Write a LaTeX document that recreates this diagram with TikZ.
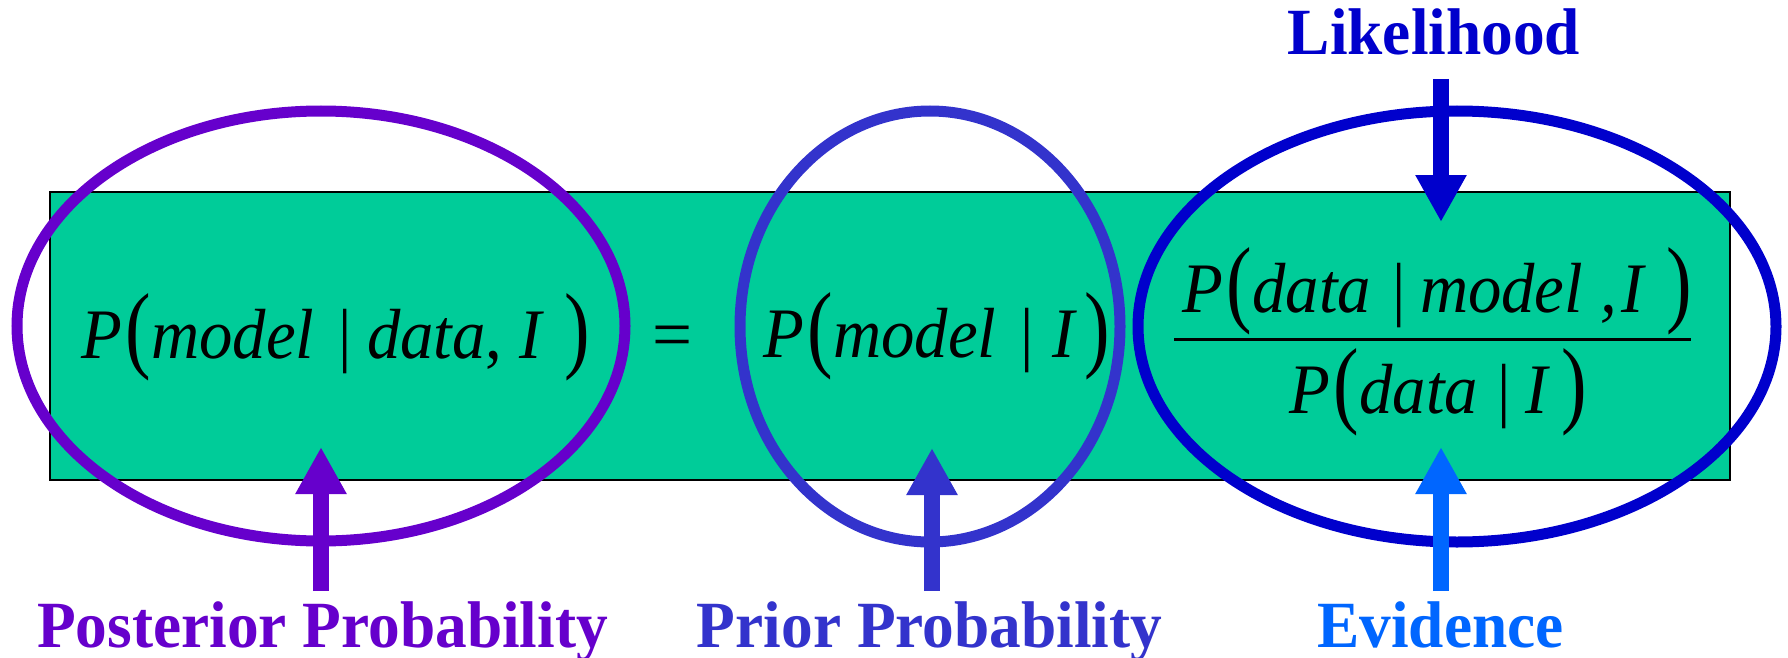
\documentclass[tikz,border=0pt]{standalone}
\usepackage{fontspec}
\setmainfont{Liberation Serif}
\usetikzlibrary{arrows.meta,shapes.geometric}
\definecolor{boxgreen}{HTML}{00CC99}
\definecolor{cpost}{HTML}{6600CC}
\definecolor{cprior}{HTML}{3333CC}
\definecolor{clike}{HTML}{0000CC}
\definecolor{cevid}{HTML}{0066FF}
\newcommand\lp{\hspace{4pt}\raisebox{-2pt}{\scalebox{1.15}[1.36]{\upshape(}}}
\newcommand\rp{\raisebox{-2pt}{\scalebox{1.15}[1.36]{\upshape)}}}
\newcommand\vb{{\upshape|}}
\newcommand\iv[1]{{\itshape #1}}
\newcommand\fx[1]{\scalebox{0.94}[1]{#1}}
\newcommand\lx[1]{\scalebox{0.96}[1]{#1}}
\begin{document}
\begin{tikzpicture}[x=1pt,y=-1pt,
  ring/.style={draw, ellipse, line width=11pt, inner sep=0pt},
  fml/.style={inner sep=0pt, anchor=base west, font=\fontsize{71}{80}\selectfont},
  lbl/.style={inner sep=0pt, anchor=base, font=\bfseries\fontsize{66}{72}\selectfont},
  bigarrow/.style={line width=16pt, -{Triangle[width=48pt,length=47pt]}}
]
\useasboundingbox (0,0) rectangle (1788,658);
\node[draw=black, line width=1.5pt, fill=boxgreen, minimum width=1680pt, minimum height=288pt, inner sep=0pt, anchor=north west] (box) at (49,191) {};

% formulas
\node[fml] (f1) at (81,358) {\fx{\iv{P}\lp\iv{model}\hspace{26pt}\vb\hspace{16pt}\iv{data}, \iv{I}\hspace{24pt}\rp}};
\node[fml, anchor=base] (eq) at (673,358) {=};
\node[fml] (f2) at (763,357) {\fx{\iv{P}\lp\iv{model}\hspace{26pt}\vb\hspace{20pt}\iv{I}\hspace{10pt}\rp}};
\node[fml] (num) at (1182,312) {\fx{\iv{P}\lp\iv{data}\hspace{23pt}\vb\hspace{15pt}\iv{model}\hspace{19pt}\iv{,}\hspace{4pt}\iv{I}\hspace{24pt}\rp}};
\node[fml] (den) at (1289,413) {\fx{\iv{P}\lp\iv{data}\hspace{21pt}\vb\hspace{15pt}\iv{I}\hspace{15pt}\rp}};
\coordinate (barL) at (1174,339.5);
\coordinate (barR) at (1691,339.5);
\draw[line width=3pt] (barL) -- (barR);

% ellipses
\node[ring, draw=cpost, minimum width=608pt, minimum height=430pt] (epost) at (321,326) {};
\node[ring, draw=cprior, minimum width=380pt, minimum height=431pt] (eprior) at (930,326.5) {};
\node[ring, draw=clike, minimum width=638pt, minimum height=431pt] (elike) at (1457,326.5) {};

% labels
\node[lbl, text=cpost] (lpost) at (322.5,647) {\lx{Posterior Probability}};
\node[lbl, text=cprior] (lprior) at (929.5,647) {\lx{Prior Probability}};
\node[lbl, text=cevid] (levid) at (1440.5,647) {\lx{Evidence}};
\node[lbl, text=clike] (llike) at (1434,55) {\lx{Likelihood}};

% arrows
\coordinate (posttail) at (321,591);
\coordinate (posttip) at (321,447);
\coordinate (priortail) at (932,591);
\coordinate (priortip) at (932,448);
\coordinate (evidtail) at (1441,591);
\coordinate (evidtip) at (1441,447);
\coordinate (liketail) at (1441,79);
\coordinate (liketip) at (1441,222);
\draw[bigarrow, cpost] (posttail) -- (posttip);
\draw[bigarrow, cprior] (priortail) -- (priortip);
\draw[bigarrow, cevid] (evidtail) -- (evidtip);
\draw[bigarrow, clike] (liketail) -- (liketip);
\end{tikzpicture}
\end{document}
